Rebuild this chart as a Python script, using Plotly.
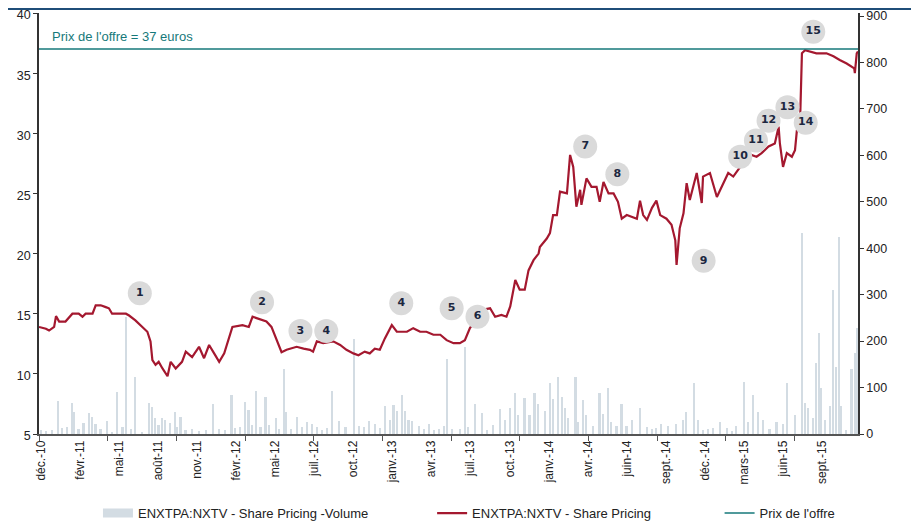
import plotly.graph_objects as go

# Trading-day index (0 = early Dec 2010) and share price (euros)
price_day = [0, 11, 16, 24, 27, 32, 42, 53, 63, 69, 74, 85, 90, 98, 106, 111, 116, 127, 138, 143,
             153, 164, 172, 177, 180, 185, 190, 196, 204, 209, 217, 227, 233, 243, 254, 262, 270, 278,
             286, 294, 302, 307, 323, 333, 339, 347, 351, 361, 369, 377, 385, 393, 409, 420, 430, 435,
             441, 451, 467, 478, 488, 499, 507, 517, 525, 533, 541, 549, 560, 568, 584, 594, 605, 615,
             626, 637, 647, 658, 668, 676, 684, 695, 700, 716, 724, 734, 742, 748, 756, 763, 771, 777,
             785, 793, 795, 806, 811, 816, 822, 827, 838, 843, 848, 853, 859, 861, 869, 877, 885, 890,
             896, 904, 912, 919, 925, 933, 941, 949, 954, 959, 965, 973, 980, 986, 996, 1004, 1010,
             1012, 1017, 1023, 1028, 1033, 1044, 1052, 1054, 1065, 1076, 1086, 1094, 1102, 1110, 1115,
             1123, 1139, 1147, 1158, 1168, 1174, 1176, 1181, 1187, 1195, 1200, 1203, 1208, 1211, 1216,
             1224, 1234, 1250, 1261, 1271, 1282, 1294, 1295, 1298, 1300]
price = [13.9, 13.75, 13.6, 13.9, 14.8, 14.35, 14.35, 15.0, 15.0, 14.75, 15.0, 15.0, 15.7, 15.7, 15.55,
         15.45, 15.0, 15.0, 15.0, 14.85, 14.45, 13.9, 13.5, 12.7, 11.15, 10.75, 11.0, 10.45, 9.8, 11.0,
         10.45, 11.0, 11.85, 11.4, 12.25, 11.3, 12.4, 11.7, 11.0, 11.7, 12.95, 13.9, 14.05, 13.9, 14.75,
         14.6, 14.5, 14.35, 13.9, 12.8, 11.8, 12.0, 12.25, 12.1, 12.0, 11.85, 12.7, 12.55, 12.7, 12.4,
         12.0, 11.7, 11.55, 11.85, 11.7, 12.1, 12.0, 12.95, 14.05, 13.5, 13.5, 13.8, 13.5, 13.5, 13.25,
         13.25, 12.8, 12.55, 12.55, 12.8, 13.8, 14.6, 15.3, 15.45, 14.75, 14.9, 14.75, 15.6, 17.8, 17.0,
         17.0, 18.6, 19.45, 20.0, 20.55, 21.25, 21.7, 23.2, 23.2, 25.15, 25.0, 28.2, 27.2, 23.9, 25.3,
         24.05, 26.25, 25.55, 25.55, 24.3, 25.95, 25.0, 25.0, 24.3, 22.9, 23.2, 23.05, 22.9, 24.4, 23.2,
         22.8, 23.8, 24.4, 23.2, 22.9, 22.4, 21.1, 19.05, 22.1, 23.35, 25.85, 24.45, 26.7, 24.2, 26.4,
         26.7, 24.7, 25.85, 26.7, 26.4, 26.95, 27.35, 28.35, 28.05, 28.35, 28.9, 29.15, 30.55, 29.15,
         27.2, 28.35, 28.05, 28.6, 30.25, 30.85, 36.65, 36.9, 36.8, 36.65, 36.65, 36.4, 36.1, 35.8,
         35.4, 35.0, 36.65, 36.8]

# Traded volume (right axis)
vol_day = [3, 11, 21, 31, 37, 45, 53, 56, 63, 71, 80, 85, 90, 98, 108, 116, 124, 133, 139, 146, 153,
           164, 175, 180, 185, 190, 196, 201, 209, 216, 220, 225, 233, 243, 254, 265, 276, 286, 296,
           306, 312, 320, 328, 333, 339, 345, 352, 360, 365, 376, 382, 389, 392, 400, 410, 418, 426,
           434, 442, 450, 458, 466, 476, 487, 500, 508, 516, 524, 534, 542, 550, 558, 563, 569, 577,
           582, 587, 593, 603, 611, 619, 627, 635, 643, 648, 656, 668, 676, 681, 692, 703, 711, 721,
           732, 740, 748, 756, 761, 771, 779, 787, 793, 803, 811, 816, 824, 830, 835, 840, 852, 856,
           864, 869, 880, 890, 896, 904, 909, 917, 925, 933, 941, 954, 965, 973, 980, 988, 999, 1012,
           1023, 1028, 1040, 1047, 1054, 1062, 1070, 1081, 1092, 1100, 1107, 1119, 1126, 1134, 1142,
           1150, 1160, 1171, 1181, 1188, 1200, 1212, 1216, 1221, 1229, 1234, 1239, 1242, 1248, 1256,
           1261, 1266, 1270, 1274, 1282, 1290, 1295, 1299]
volume = [8, 6, 8, 70, 12, 15, 67, 48, 10, 24, 45, 37, 22, 10, 29, 5, 90, 15, 252, 10, 122, 5, 66, 59,
          34, 20, 34, 30, 24, 48, 15, 37, 8, 10, 6, 8, 65, 10, 8, 84, 12, 15, 68, 52, 20, 93, 15, 80,
          20, 34, 10, 141, 48, 10, 37, 15, 26, 22, 15, 8, 12, 93, 28, 15, 204, 18, 15, 28, 22, 12, 60,
          30, 62, 50, 84, 50, 30, 28, 18, 10, 22, 8, 10, 18, 161, 10, 10, 188, 15, 65, 45, 8, 20, 53,
          30, 57, 89, 40, 77, 40, 88, 65, 50, 109, 75, 123, 80, 55, 35, 122, 25, 73, 40, 18, 88, 44,
          99, 25, 18, 65, 18, 30, 57, 16, 10, 12, 22, 18, 22, 30, 48, 109, 30, 8, 10, 12, 26, 12, 6,
          18, 111, 26, 84, 48, 30, 10, 26, 22, 109, 40, 432, 66, 55, 35, 152, 217, 100, 30, 60, 310,
          145, 424, 60, 8, 141, 174, 228]

offer_price = 37

label_days = [3 + 62 * k for k in range(21)]
label_text = ["déc.-10", "févr.-11", "mai-11", "août-11", "nov.-11", "févr.-12", "mai-12", "juil.-12",
              "oct.-12", "janv.-13", "avr.-13", "juil.-13", "oct.-13", "janv.-14", "avr.-14", "juin-14",
              "sept.-14", "déc.-14", "mars-15", "juin-15", "sept.-15"]

# Numbered event markers
event_day = [160, 354, 415, 456, 575, 655, 696, 867, 918, 1055, 1113, 1138, 1158, 1188, 1217, 1229]
event_pos = [16.7, 15.95, 13.57, 13.57, 15.87, 15.45, 14.75, 28.9, 26.6, 19.4, 28.05, 29.4, 31.05,
             32.16, 30.88, 38.45]
event_label = ["1", "2", "3", "4", "4", "5", "6", "7", "8", "9", "10", "11", "12", "13", "14", "15"]

FONT = "Liberation Sans, Arial, sans-serif"
RED = "#a4182f"
TEAL = "#16797a"
GREY_BAR = "#d3dce3"

fig = go.Figure()
fig.add_trace(go.Bar(x=vol_day, y=volume, name="ENXTPA:NXTV - Share Pricing -Volume",
                     marker=dict(color=GREY_BAR, line=dict(width=0)), width=2.6,
                     yaxis="y", showlegend=False))
# legend swatch for the volume series (wide grey band like the original)
fig.add_trace(go.Scatter(x=[None], y=[None], mode="lines", name="ENXTPA:NXTV - Share Pricing -Volume",
                         line=dict(color=GREY_BAR, width=9), yaxis="y", legend="legend"))
fig.add_trace(go.Scatter(x=price_day, y=price, mode="lines", name="ENXTPA:NXTV - Share Pricing",
                         line=dict(color=RED, width=2.2), yaxis="y2", legend="legend2"))
fig.add_trace(go.Scatter(x=[0, 1300], y=[offer_price, offer_price], mode="lines",
                         name="Prix de l'offre", line=dict(color=TEAL, width=1.5), yaxis="y2",
                         legend="legend3"))
fig.add_trace(go.Scatter(x=event_day, y=event_pos, mode="markers+text", text=event_label,
                         textposition="middle center", showlegend=False, yaxis="y2",
                         marker=dict(size=24, color="#dadada"),
                         textfont=dict(family="DejaVu Sans, sans-serif", size=11, color="#1c2740"),
                         texttemplate="<b>%{text}</b>", hoverinfo="skip"))

fig.add_annotation(x=17, y=offer_price, xref="x", yref="y2", text="Prix de l'offre = 37 euros",
                   showarrow=False, xanchor="left", yanchor="bottom", yshift=3,
                   font=dict(family=FONT, size=13, color=TEAL))

fig.add_shape(type="line", xref="paper", yref="paper", x0=-0.05, x1=1.08, y0=1.0095, y1=1.0095,
              line=dict(color="#1f4e79", width=2))

leg_common = dict(orientation="h", y=-0.188, yanchor="middle", xanchor="left",
                  font=dict(size=13, color="#222"), bgcolor="rgba(0,0,0,0)")

# The page adds an 8px body margin, so the figure is sized to fit the 919x524 window.
fig.update_layout(
    width=911, height=516,
    margin=dict(l=31, r=61, t=5, b=90, autoexpand=False),
    plot_bgcolor="white", paper_bgcolor="white",
    font=dict(family=FONT, size=13, color="#222"),
    bargap=0,
    xaxis=dict(range=[0, 1300], tickmode="array", tickvals=label_days, ticktext=label_text,
               tickangle=-90, ticks="", showgrid=False, zeroline=False, showline=True,
               linecolor="#555", linewidth=1.5, tickfont=dict(size=12), automargin=False,
               minor=dict(tickmode="array", tickvals=[109 * k for k in range(13)],
                          ticks="outside", ticklen=5, tickcolor="#555", showgrid=False)),
    yaxis=dict(side="right", range=[0, 906.5], tickvals=list(range(0, 1000, 100)),
               showgrid=False, zeroline=False, showline=True, linecolor="#333", linewidth=1.5,
               ticks="outside", ticklen=4, tickcolor="#333", automargin=False,
               ticklabeloverflow="allow", tickfont=dict(size=12.5)),
    yaxis2=dict(side="left", overlaying="y", range=[5, 40], tickvals=list(range(5, 45, 5)),
                showgrid=False, zeroline=False, showline=True, linecolor="#333", linewidth=1.5,
                ticks="outside", ticklen=4, tickcolor="#333", automargin=False,
                ticklabeloverflow="allow", ticklabelshift=2, tickfont=dict(size=12.5)),
    legend=dict(x=0.072, **leg_common),
    legend2=dict(x=0.48, **leg_common),
    legend3=dict(x=0.831, **leg_common),
    showlegend=True,
)

fig.write_html("out.html")
